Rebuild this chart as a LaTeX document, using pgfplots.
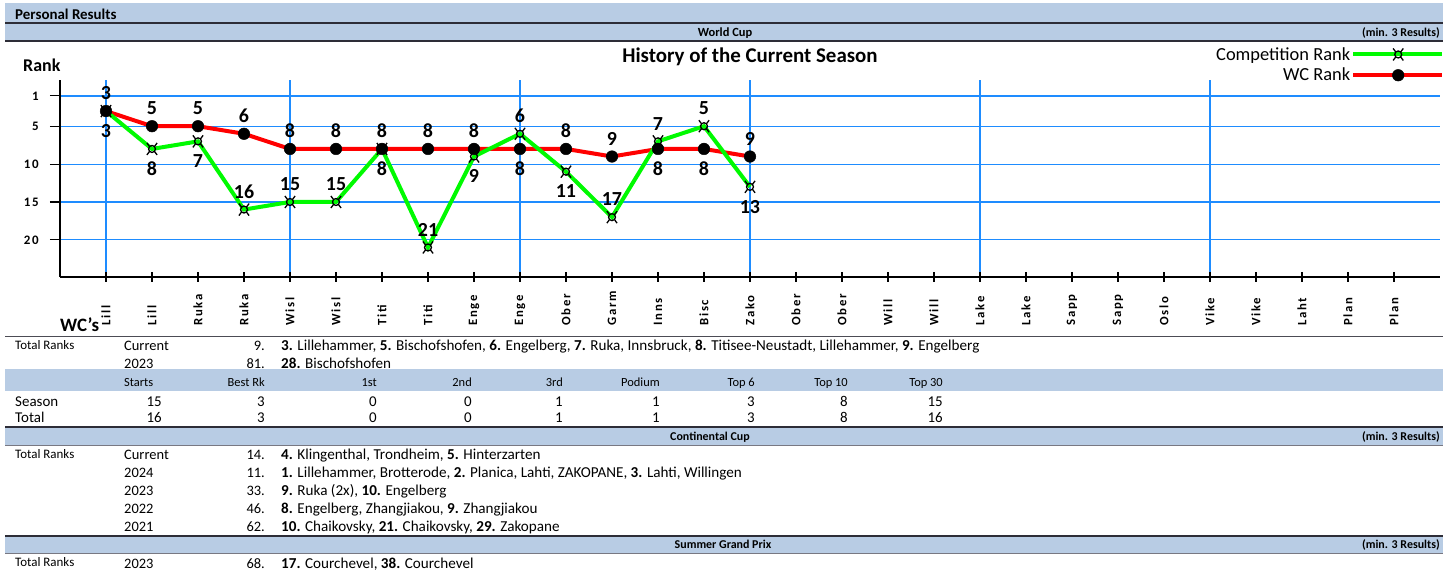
\documentclass[border=0pt]{standalone}
\usepackage{fontspec}
\setmainfont{Carlito}
\newfontfamily\tickfont[LetterSpace=14]{Carlito}
\usepackage{pgfplots}
\pgfplotsset{compat=1.18}
\definecolor{band}{RGB}{184,204,228}
\definecolor{gridblue}{RGB}{30,140,255}
\definecolor{compgreen}{RGB}{0,250,0}
\definecolor{wcred}{RGB}{255,0,0}
\definecolor{rulec}{RGB}{45,45,55}
\definecolor{rulel}{RGB}{120,120,130}
\newcommand{\fs}[1]{\fontsize{#1}{#1}\selectfont}
% currency-sign shaped marker
\pgfdeclareplotmark{curr}{%
  \pgfpathcircle{\pgfpoint{0pt}{0pt}}{0.58\pgfplotmarksize}%
  \pgfpathmoveto{\pgfpoint{0.41\pgfplotmarksize}{0.41\pgfplotmarksize}}%
  \pgfpathlineto{\pgfpoint{0.85\pgfplotmarksize}{1.0\pgfplotmarksize}}%
  \pgfpathmoveto{\pgfpoint{-0.41\pgfplotmarksize}{0.41\pgfplotmarksize}}%
  \pgfpathlineto{\pgfpoint{-0.85\pgfplotmarksize}{1.0\pgfplotmarksize}}%
  \pgfpathmoveto{\pgfpoint{0.41\pgfplotmarksize}{-0.41\pgfplotmarksize}}%
  \pgfpathlineto{\pgfpoint{0.85\pgfplotmarksize}{-1.0\pgfplotmarksize}}%
  \pgfpathmoveto{\pgfpoint{-0.41\pgfplotmarksize}{-0.41\pgfplotmarksize}}%
  \pgfpathlineto{\pgfpoint{-0.85\pgfplotmarksize}{-1.0\pgfplotmarksize}}%
  \pgfusepathqstroke}
\begin{document}
\begin{tikzpicture}
\useasboundingbox (0,0) rectangle (1449bp,571bp);
\begin{axis}[
  at={(60bp,294bp)}, anchor=south west,
  width=1380bp, height=197bp, scale only axis,
  xmin=0, xmax=30, ymin=-24.9, ymax=1.1,
  axis lines=left, axis line style={-, black, line width=1.3bp},
  xtick={1,...,29},
  xticklabels={Lill,Lill,Ruka,Ruka,Wisl,Wisl,Titi,Titi,Enge,Enge,Ober,Garm,Inns,Bisc,Zako,Ober,Ober,Will,Will,Lake,Lake,Sapp,Sapp,Oslo,Vike,Vike,Laht,Plan,Plan},
  xticklabel style={rotate=90, anchor=west, inner sep=0pt, font=\tickfont\bfseries\fs{12.8}},
  xticklabel shift=44bp,
  ytick={-1,-5,-10,-15,-20},
  yticklabels={1,5,10,15,20},
  yticklabel style={anchor=east, inner sep=0pt, font=\tickfont\bfseries\fs{13}},
  yticklabel shift=16bp,
  tick align=center, major tick length=10bp,
  tick style={black, line width=1.1bp},
  ytick style={xshift=-5bp},
  ymajorgrids=true, xmajorgrids=false,
  major grid style={gridblue, line width=1.2bp},
  extra x ticks={1,5,10,15,20,25},
  extra x tick labels={,,,,,},
  extra x tick style={xmajorgrids=true},
  clip=false,
  legend style={at={(1.0032,1.172)}, anchor=north east, draw=none, fill=none, inner sep=0pt, row sep=4.5bp, font=\fs{18.5}, nodes={inner sep=1bp}},
  legend cell align=right, legend plot pos=right, reverse legend,
  legend image code/.code={\draw[mark repeat=2,mark phase=2,#1] plot coordinates {(0bp,0bp) (45bp,0bp) (89bp,0bp)};},
]
% WC rank
\addplot[wcred, line width=4bp, mark=*, mark size=5.8bp, mark options={black, fill=black, line width=0.5bp, solid}]
  coordinates {(1,-3)(2,-5)(3,-5)(4,-6)(5,-8)(6,-8)(7,-8)(8,-8)(9,-8)(10,-8)(11,-8)(12,-9)(13,-8)(14,-8)(15,-9)};
\addlegendentry{WC Rank}
% Competition rank
\addplot[compgreen, line width=4bp, mark=curr, mark size=6bp, mark options={black, line width=1.3bp, solid}]
  coordinates {(1,-3)(2,-8)(3,-7)(4,-16)(5,-15)(6,-15)(7,-8)(8,-21)(9,-9)(10,-6)(11,-11)(12,-17)(13,-7)(14,-5)(15,-13)};
\addlegendentry{Competition Rank}
% labels above
\addplot[draw=none, forget plot, nodes near coords, point meta=explicit symbolic,
  nodes near coords style={anchor=south, yshift=11bp, font=\bfseries\fs{20}, inner sep=0pt, text=black}]
  coordinates {(1,-3)[3] (2,-5)[5] (3,-5)[5] (4,-6)[6] (5,-8)[8] (6,-8)[8] (7,-8)[8] (8,-8)[8] (9,-8)[8] (11,-8)[8] (12,-9)[9] (15,-9)[9]
  (4,-16)[16] (5,-15)[15] (6,-15)[15] (8,-21)[21] (10,-6)[6] (12,-17)[17] (13,-7)[7] (14,-5)[5]};
% labels below
\addplot[draw=none, forget plot, nodes near coords, point meta=explicit symbolic,
  nodes near coords style={anchor=north, yshift=-13bp, font=\bfseries\fs{20}, inner sep=0pt, text=black}]
  coordinates {(10,-8)[8] (13,-8)[8] (14,-8)[8]
  (1,-3)[3] (2,-8)[8] (3,-7)[7] (7,-8)[8] (9,-9)[9] (11,-11)[11] (15,-13)[13]};
\end{axis}

\begin{scope}[x=1bp, y=-1bp, shift={(0bp,571bp)}, every node/.style={inner sep=0pt}]
% bands and rules
\fill[band] (5,3) rectangle (1443,22.5);
\draw[rulec, line width=1.6bp] (5,23.3) -- (1443,23.3);
\fill[band] (5,24) rectangle (1443,40.3);
\draw[rulec, line width=1.6bp] (5,41) -- (1443,41);
\draw[rulec!85, line width=1.6bp] (5,336.5) -- (1443,336.5);
\fill[band] (5,369) rectangle (1443,391);
\draw[rulec, line width=1.6bp] (5,427) -- (1443,427);
\fill[band] (5,428) rectangle (1443,445);
\draw[rulel, line width=1bp] (5,445.5) -- (1443,445.5);
\draw[rulec, line width=1.6bp] (5,536) -- (1443,536);
\fill[band] (5,537) rectangle (1443,553);
\draw[rulel, line width=1bp] (5,553.5) -- (1443,553.5);
% headers
\node[anchor=base west, font=\bfseries\fs{15}] at (15,19.5) {Personal Results};
\node[anchor=base, font=\bfseries\fs{12.5}] at (725,37) {World Cup};
\node[anchor=base east, font=\bfseries\fs{12}] at (1440,37) {(min. 3 Results)};
\node[anchor=base, font=\bfseries\fs{21}] at (750,62.5) {History of the Current Season};
\node[anchor=base west, font=\bfseries\fs{18}] at (23,71.7) {Rank};
\node[anchor=base west, font=\bfseries\fs{19}] at (60,331.7) {WC's};
% WC totals
\node[anchor=base west, font=\fs{13}] at (15,349.5) {Total Ranks};
\node[anchor=base west, font=\fs{14.5}] at (124,351) {Current};
\node[anchor=base east, font=\fs{14.5}] at (265,351) {9.};
\node[anchor=base west, font=\fs{15.2}] at (281,351) {\textbf{3.} Lillehammer, \textbf{5.} Bischofshofen, \textbf{6.} Engelberg, \textbf{7.} Ruka, Innsbruck, \textbf{8.} Titisee-Neustadt, Lillehammer, \textbf{9.} Engelberg};
\node[anchor=base west, font=\fs{14.5}] at (124,368.5) {2023};
\node[anchor=base east, font=\fs{14.5}] at (265,368.5) {81.};
\node[anchor=base west, font=\fs{15.2}] at (281,368.5) {\textbf{28.} Bischofshofen};
% stats header
\node[anchor=base west, font=\fs{12.5}] at (124,386.7) {Starts};
\foreach \xx/\tt in {265/Best Rk, 377/1st, 472/2nd, 563/3rd, 660/Podium, 755/Top 6, 848/Top 10, 943/Top 30}
  \node[anchor=base east, font=\fs{12.5}] at (\xx,386.7) {\tt};
\node[anchor=base west, font=\fs{15}] at (15,406.5) {Season};
\node[anchor=base west, font=\fs{15}] at (15,423) {Total};
\foreach \xx/\a/\b in {162/15/16, 265/3/3, 377/0/0, 472/0/0, 563/1/1, 660/1/1, 755/3/3, 848/8/8, 943/15/16} {
  \node[anchor=base east, font=\fs{15}] at (\xx,406.5) {\a};
  \node[anchor=base east, font=\fs{15}] at (\xx,423) {\b};
}
% Continental Cup
\node[anchor=base, font=\bfseries\fs{12}] at (710,441) {Continental Cup};
\node[anchor=base east, font=\bfseries\fs{12}] at (1440,441) {(min. 3 Results)};
\node[anchor=base west, font=\fs{13}] at (15,458.5) {Total Ranks};
\node[anchor=base west, font=\fs{14.5}] at (124,460) {Current};
\node[anchor=base east, font=\fs{14.5}] at (265,460) {14.};
\node[anchor=base west, font=\fs{15.2}] at (281,460) {\textbf{4.} Klingenthal, Trondheim, \textbf{5.} Hinterzarten};
\node[anchor=base west, font=\fs{14.5}] at (124,477.5) {2024};
\node[anchor=base east, font=\fs{14.5}] at (265,477.5) {11.};
\node[anchor=base west, font=\fs{15.2}] at (281,477.5) {\textbf{1.} Lillehammer, Brotterode, \textbf{2.} Planica, Lahti, ZAKOPANE, \textbf{3.} Lahti, Willingen};
\node[anchor=base west, font=\fs{14.5}] at (124,496) {2023};
\node[anchor=base east, font=\fs{14.5}] at (265,496) {33.};
\node[anchor=base west, font=\fs{15.2}] at (281,496) {\textbf{9.} Ruka (2x), \textbf{10.} Engelberg};
\node[anchor=base west, font=\fs{14.5}] at (124,514) {2022};
\node[anchor=base east, font=\fs{14.5}] at (265,514) {46.};
\node[anchor=base west, font=\fs{15.2}] at (281,514) {\textbf{8.} Engelberg, Zhangjiakou, \textbf{9.} Zhangjiakou};
\node[anchor=base west, font=\fs{14.5}] at (124,532) {2021};
\node[anchor=base east, font=\fs{14.5}] at (265,532) {62.};
\node[anchor=base west, font=\fs{15.2}] at (281,532) {\textbf{10.} Chaikovsky, \textbf{21.} Chaikovsky, \textbf{29.} Zakopane};
% Summer Grand Prix
\node[anchor=base, font=\bfseries\fs{12}] at (723,548.5) {Summer Grand Prix};
\node[anchor=base east, font=\bfseries\fs{12}] at (1440,548.5) {(min. 3 Results)};
\node[anchor=base west, font=\fs{13}] at (15,567) {Total Ranks};
\node[anchor=base west, font=\fs{14.5}] at (124,568.5) {2023};
\node[anchor=base east, font=\fs{14.5}] at (265,568.5) {68.};
\node[anchor=base west, font=\fs{15.2}] at (281,568.5) {\textbf{17.} Courchevel, \textbf{38.} Courchevel};
\end{scope}
\end{tikzpicture}
\end{document}
